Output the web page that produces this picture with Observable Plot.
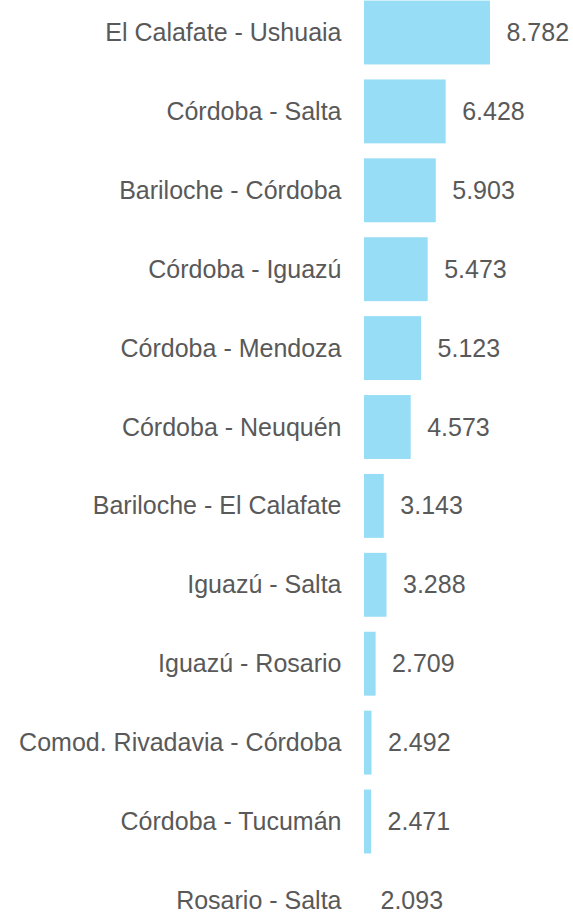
<!DOCTYPE html>
<html>
<head>
<meta charset="utf-8">
<script src="https://cdn.jsdelivr.net/npm/d3@7"></script>
<script src="https://cdn.jsdelivr.net/npm/@observablehq/plot@0.6"></script>
<style>
  html, body { margin: 0; padding: 0; background: #ffffff; }
  #chart { width: 573px; height: 915px; overflow: hidden; }
</style>
</head>
<body>
<div id="chart"></div>
<script>
const routes = [
  "El Calafate - Ushuaia",
  "Córdoba - Salta",
  "Bariloche - Córdoba",
  "Córdoba - Iguazú",
  "Córdoba - Mendoza",
  "Córdoba - Neuquén",
  "Bariloche - El Calafate",
  "Iguazú - Salta",
  "Iguazú - Rosario",
  "Comod. Rivadavia - Córdoba",
  "Córdoba - Tucumán",
  "Rosario - Salta"
];
const passengers = [8782, 6428, 5903, 5473, 5123, 4573, 3143, 3288, 2709, 2492, 2471, 2093];

const data = routes.map((r, i) => ({route: r, value: passengers[i]}));
const axisMin = d3.min(passengers);
const axisMax = d3.max(passengers);
const fmt = v => d3.format(",")(v).replace(/,/g, ".");

const step = 78.9;
const firstCenter = 32.5;
const chart = Plot.plot({
  width: 573,
  height: 915,
  marginLeft: 364,
  marginRight: 83,
  marginTop: 0,
  marginBottom: 0,
  style: {fontFamily: "'Liberation Sans', Arial, sans-serif", fontSize: "25px", color: "#595959", background: "#ffffff"},
  x: {domain: [axisMin, axisMax], axis: null},
  y: {
    domain: routes,
    range: [firstCenter - step / 2, firstCenter - step / 2 + step * routes.length],
    paddingInner: 0.19,
    paddingOuter: 0.095,
    round: false,
    label: null
  },
  marks: [
    Plot.barX(data, {x1: () => axisMin, x2: "value", y: "route", fill: "#97DDF6"}),
    Plot.axisY({tickSize: 0, tickPadding: 23, label: null, fontSize: 25, fill: "#595959"}),
    Plot.text(data, {x: "value", y: "route", text: d => fmt(d.value), dx: 16, textAnchor: "start", fontSize: 25, fill: "#595959"})
  ]
});
document.getElementById("chart").appendChild(chart);
</script>
</body>
</html>
